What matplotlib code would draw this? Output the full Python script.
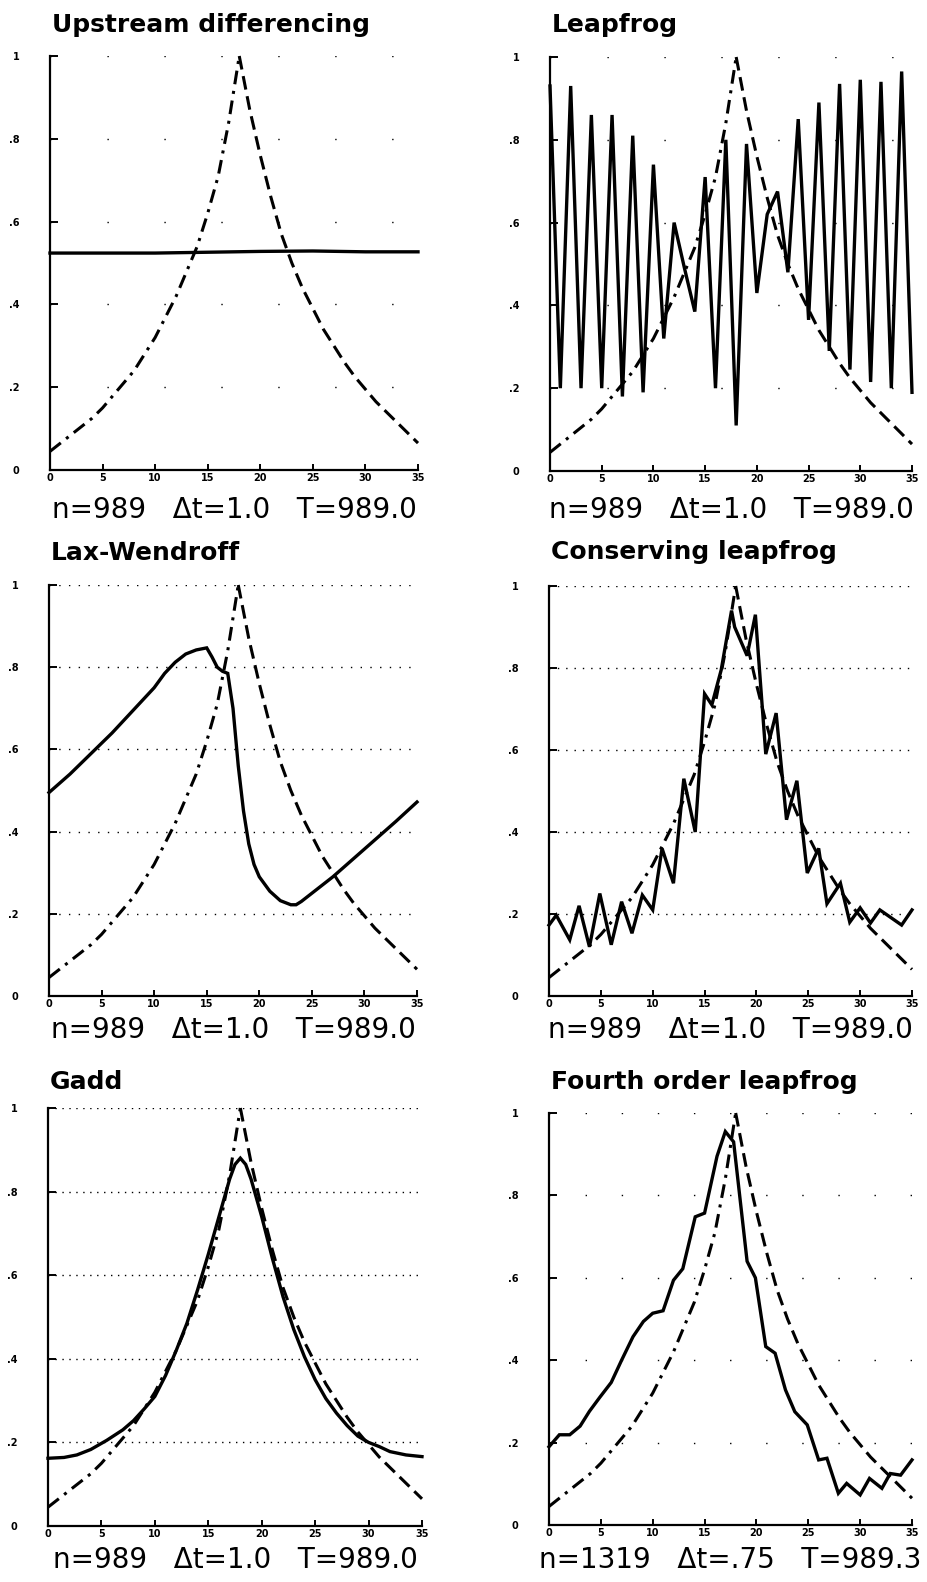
"""Advection schemes compared with the exact solution"""
import matplotlib.pyplot as plt

# exact solution (dashed curve), read at integer grid points
grid_x = list(range(36))
exact_u = [0.045, 0.065, 0.085, 0.105, 0.125, 0.15, 0.18, 0.21, 0.24, 0.28,
           0.32, 0.37, 0.42, 0.48, 0.54, 0.62, 0.71, 0.84, 1.0, 0.87,
           0.76, 0.66, 0.57, 0.50, 0.44, 0.39, 0.34, 0.30, 0.26, 0.225,
           0.195, 0.165, 0.14, 0.115, 0.09, 0.065]

# upstream differencing
upstream_x = [0, 5, 10, 15, 20, 25, 30, 35]
upstream_u = [0.524, 0.524, 0.524, 0.526, 0.528, 0.529, 0.527, 0.527]

# leapfrog (on the integer grid)
leapfrog_u = [0.93, 0.20, 0.93, 0.20, 0.86, 0.20, 0.86, 0.18, 0.81, 0.19,
              0.74, 0.32, 0.60, 0.49, 0.385, 0.71, 0.20, 0.80, 0.11, 0.79,
              0.43, 0.62, 0.675, 0.48, 0.85, 0.365, 0.89, 0.29, 0.935, 0.245,
              0.945, 0.215, 0.94, 0.20, 0.965, 0.19]

# Lax-Wendroff
lax_x = [0, 2, 4, 6, 8, 10, 11, 12, 13, 14, 15, 15.5, 16, 16.5, 17, 17.5,
         18, 18.5, 19, 19.5, 20, 21, 22, 23, 23.5, 24, 25, 27, 29, 31, 33, 35]
lax_u = [0.495, 0.54, 0.59, 0.64, 0.695, 0.75, 0.785, 0.812, 0.832, 0.842,
         0.847, 0.825, 0.80, 0.79, 0.785, 0.70, 0.56, 0.45, 0.37, 0.32,
         0.29, 0.255, 0.232, 0.222, 0.222, 0.23, 0.25, 0.29, 0.335, 0.38,
         0.425, 0.472]

# conserving leapfrog
cons_x = [0, 0.7, 2, 2.9, 3.9, 4.9, 6, 7, 8, 9, 10, 10.9, 12, 13, 14.1, 15,
          15.7, 16.6, 17.6, 17.9, 19.1, 19.9, 20.9, 21.9, 22.9, 23.9, 24.9,
          26, 26.8, 28.1, 29, 30, 31, 31.9, 34, 35]
cons_u = [0.173, 0.197, 0.137, 0.22, 0.12, 0.25, 0.125, 0.23, 0.153, 0.246,
          0.21, 0.36, 0.275, 0.53, 0.40, 0.737, 0.71, 0.795, 0.94, 0.90,
          0.83, 0.93, 0.59, 0.69, 0.43, 0.525, 0.30, 0.36, 0.225, 0.275,
          0.18, 0.215, 0.178, 0.21, 0.173, 0.21]

# Gadd
gadd_x = [0, 1.5, 2.7, 4, 5.5, 7, 8, 9, 10, 11, 12, 13, 14, 15, 16, 17,
          17.5, 18, 18.5, 19, 20, 21, 22, 23, 24, 25, 26, 27, 28, 29, 30,
          31, 32, 33.5, 35]
gadd_u = [0.162, 0.164, 0.17, 0.183, 0.205, 0.23, 0.252, 0.28, 0.31, 0.36,
          0.42, 0.485, 0.565, 0.65, 0.74, 0.83, 0.865, 0.88, 0.865, 0.83,
          0.74, 0.64, 0.548, 0.47, 0.405, 0.35, 0.305, 0.27, 0.24, 0.215,
          0.2, 0.19, 0.178, 0.17, 0.166]

# fourth order leapfrog
fourth_x = [0, 1, 2, 3, 3.9, 4.9, 6, 7, 8.1, 9.1, 10, 11, 12, 12.9, 14.1,
            15, 16.2, 17, 17.8, 19.1, 19.9, 20.9, 21.8, 22.8, 23.7, 24.9,
            26, 26.8, 27.9, 28.7, 30, 30.9, 32.1, 32.9, 33.9, 35]
fourth_u = [0.19, 0.219, 0.219, 0.24, 0.276, 0.31, 0.346, 0.40, 0.457, 0.494,
            0.514, 0.52, 0.594, 0.622, 0.748, 0.757, 0.895, 0.955, 0.93, 0.64,
            0.60, 0.433, 0.417, 0.328, 0.275, 0.243, 0.158, 0.162, 0.077,
            0.101, 0.073, 0.113, 0.089, 0.125, 0.121, 0.158]

titles = ["Upstream differencing", "Leapfrog", "Lax-Wendroff",
          "Conserving leapfrog", "Gadd", "Fourth order leapfrog"]
captions = ["n=989   Δt=1.0   T=989.0"] * 5 + ["n=1319   Δt=.75   T=989.3"]
x_ticks = [0, 5, 10, 15, 20, 25, 30, 35]
y_ticks = [0, 0.2, 0.4, 0.6, 0.8, 1]
y_tick_labels = ["0", ".2", ".4", ".6", ".8", "1"]

solutions = [
    (upstream_x, upstream_u),
    (grid_x, leapfrog_u),
    (lax_x, lax_u),
    (cons_x, cons_u),
    (gadd_x, gadd_u),
    (fourth_x, fourth_u),
]

W, H = 927, 1582
# axes frame in pixels: left, right, top (u=1), bottom (u=0)
boxes = [
    (50, 418, 56, 470),
    (550, 912, 57, 471),
    (49, 417, 585, 996),
    (549, 912, 586, 996),
    (48, 422, 1108, 1526),
    (549, 912, 1113, 1525),
]
title_base = [32, 32, 560, 559, 1089, 1089]
caption_base = [518, 518, 1038, 1038, 1568, 1568]
grid_gap = [40, 40, 6, 5, 4, 25]

fig = plt.figure(figsize=(W / 100, H / 100), dpi=100)

for i in range(6):
    l, r, t, b = boxes[i]
    ax = fig.add_axes([l / W, 1 - b / H, (r - l) / W, (b - t) / H])
    ax.set_xlim(0, 35)
    ax.set_ylim(0, 1)

    # sparse dotted grid
    for yv in y_ticks[1:]:
        ax.axhline(yv, color="black", lw=1.0, linestyle=(0, (1, grid_gap[i])),
                   zorder=1)

    # exact solution: dash-dot rising side, dashed falling side
    ax.plot(grid_x[:19], exact_u[:19], color="black", lw=2.2,
            linestyle=(0, (4.5, 2.2, 1, 2.2)), clip_on=False, zorder=3)
    ax.plot(grid_x[18:], exact_u[18:], color="black", lw=2.2,
            linestyle=(0, (4.5, 2.2)), clip_on=False, zorder=3)

    # numerical solution
    sx, su = solutions[i]
    ax.plot(sx, su, color="black", lw=2.4, solid_joinstyle="miter",
            clip_on=False, zorder=4)

    for side in ["top", "right"]:
        ax.spines[side].set_visible(False)
    for side in ["left", "bottom"]:
        ax.spines[side].set_linewidth(1.6)

    ax.set_xticks(x_ticks)
    ax.set_xticklabels([str(v) for v in x_ticks], fontsize=7, fontweight="bold")
    ax.set_yticks(y_ticks)
    ax.set_yticklabels(y_tick_labels, fontsize=7, fontweight="bold")
    ax.tick_params(axis="x", direction="in", length=4, width=1.4, pad=2)
    ax.tick_params(axis="y", direction="in", length=6, width=1.4, pad=22)

    fig.text(l / W + 0.002, 1 - title_base[i] / H, titles[i], fontsize=18,
             fontweight="bold", family="DejaVu Sans", va="baseline",
             ha="left")
    fig.text((l + r) / 2 / W, 1 - caption_base[i] / H, captions[i],
             fontsize=20, family="DejaVu Sans", va="baseline", ha="center")

plt.savefig("out.png", dpi=100)
